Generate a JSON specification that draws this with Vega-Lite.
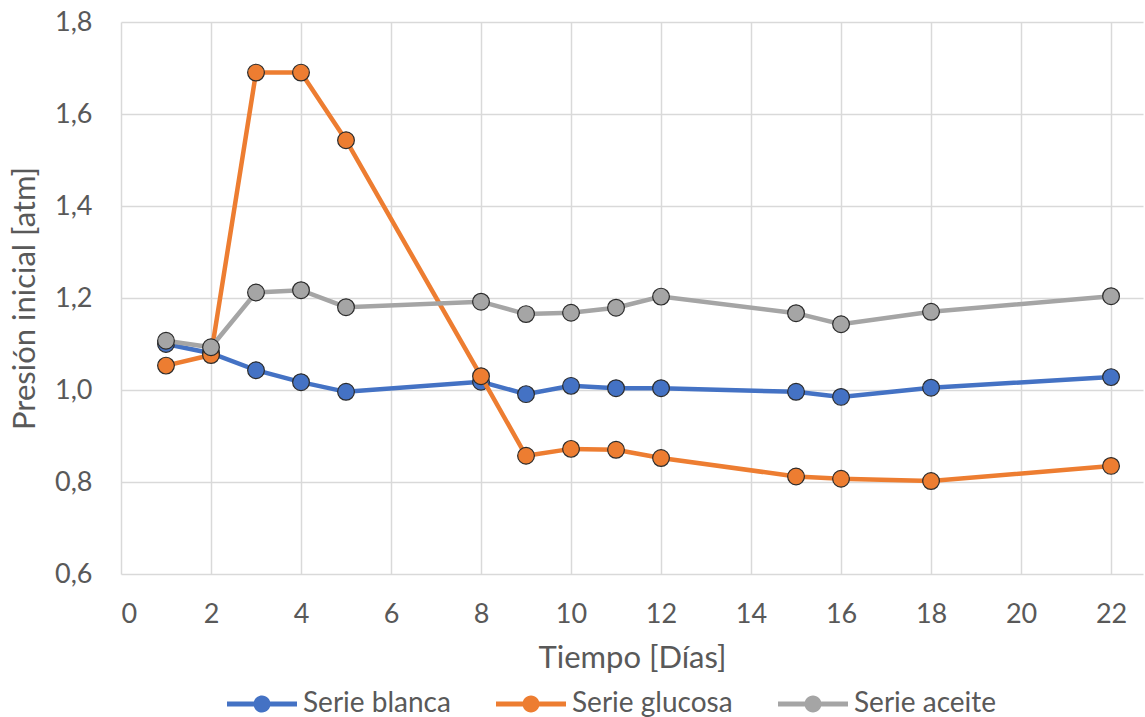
{
  "$schema": "https://vega.github.io/schema/vega-lite/v6.json",
  "width": 1022,
  "height": 552,
  "autosize": "none",
  "padding": {"left": 121, "top": 22, "right": 2, "bottom": 143},
  "background": "white",
  "config": {
    "font": "Lato",
    "view": {"stroke": null},
    "axis": {
      "labelColor": "#595959",
      "titleColor": "#595959",
      "labelFontSize": 27,
      "titleFontSize": 31,
      "titleFontWeight": "normal",
      "gridColor": "#d9d9d9",
      "gridWidth": 1.5,
      "ticks": false,
      "domain": false
    }
  },
  "data": {
    "values": [
      {"dia": 1, "serie": "Serie blanca", "presion": 1.100},
      {"dia": 2, "serie": "Serie blanca", "presion": 1.080},
      {"dia": 3, "serie": "Serie blanca", "presion": 1.043},
      {"dia": 4, "serie": "Serie blanca", "presion": 1.017},
      {"dia": 5, "serie": "Serie blanca", "presion": 0.996},
      {"dia": 8, "serie": "Serie blanca", "presion": 1.018},
      {"dia": 9, "serie": "Serie blanca", "presion": 0.991},
      {"dia": 10, "serie": "Serie blanca", "presion": 1.009},
      {"dia": 11, "serie": "Serie blanca", "presion": 1.004},
      {"dia": 12, "serie": "Serie blanca", "presion": 1.004},
      {"dia": 15, "serie": "Serie blanca", "presion": 0.996},
      {"dia": 16, "serie": "Serie blanca", "presion": 0.985},
      {"dia": 18, "serie": "Serie blanca", "presion": 1.005},
      {"dia": 22, "serie": "Serie blanca", "presion": 1.028},
      {"dia": 1, "serie": "Serie glucosa", "presion": 1.053},
      {"dia": 2, "serie": "Serie glucosa", "presion": 1.076},
      {"dia": 3, "serie": "Serie glucosa", "presion": 1.690},
      {"dia": 4, "serie": "Serie glucosa", "presion": 1.690},
      {"dia": 5, "serie": "Serie glucosa", "presion": 1.543},
      {"dia": 8, "serie": "Serie glucosa", "presion": 1.030},
      {"dia": 9, "serie": "Serie glucosa", "presion": 0.857},
      {"dia": 10, "serie": "Serie glucosa", "presion": 0.872},
      {"dia": 11, "serie": "Serie glucosa", "presion": 0.870},
      {"dia": 12, "serie": "Serie glucosa", "presion": 0.852},
      {"dia": 15, "serie": "Serie glucosa", "presion": 0.812},
      {"dia": 16, "serie": "Serie glucosa", "presion": 0.807},
      {"dia": 18, "serie": "Serie glucosa", "presion": 0.802},
      {"dia": 22, "serie": "Serie glucosa", "presion": 0.835},
      {"dia": 1, "serie": "Serie aceite", "presion": 1.107},
      {"dia": 2, "serie": "Serie aceite", "presion": 1.093},
      {"dia": 3, "serie": "Serie aceite", "presion": 1.212},
      {"dia": 4, "serie": "Serie aceite", "presion": 1.217},
      {"dia": 5, "serie": "Serie aceite", "presion": 1.180},
      {"dia": 8, "serie": "Serie aceite", "presion": 1.192},
      {"dia": 9, "serie": "Serie aceite", "presion": 1.165},
      {"dia": 10, "serie": "Serie aceite", "presion": 1.168},
      {"dia": 11, "serie": "Serie aceite", "presion": 1.179},
      {"dia": 12, "serie": "Serie aceite", "presion": 1.203},
      {"dia": 15, "serie": "Serie aceite", "presion": 1.167},
      {"dia": 16, "serie": "Serie aceite", "presion": 1.143},
      {"dia": 18, "serie": "Serie aceite", "presion": 1.170},
      {"dia": 22, "serie": "Serie aceite", "presion": 1.204}
    ]
  },
  "encoding": {
    "x": {
      "field": "dia",
      "type": "quantitative",
      "scale": {"domain": [0, 22.71], "nice": false, "zero": false},
      "axis": {
        "values": [0, 2, 4, 6, 8, 10, 12, 14, 16, 18, 20, 22],
        "labelPadding": 27,
        "title": "Tiempo [Días]",
        "titlePadding": 16
      }
    },
    "y": {
      "field": "presion",
      "type": "quantitative",
      "scale": {"domain": [0.6, 1.8], "nice": false, "zero": false},
      "axis": {
        "values": [0.6, 0.8, 1.0, 1.2, 1.4, 1.6, 1.8],
        "labelExpr": "replace(format(datum.value, '.1f'), '.', ',')",
        "labelPadding": 29,
        "title": "Presión inicial [atm]",
        "titlePadding": 13
      }
    },
    "color": {
      "field": "serie",
      "type": "nominal",
      "scale": {
        "domain": ["Serie blanca", "Serie glucosa", "Serie aceite"],
        "range": ["#4472C4", "#ED7D31", "#A5A5A5"]
      },
      "legend": {
        "title": null,
        "orient": "none",
        "direction": "horizontal",
        "legendX": 106,
        "legendY": 647,
        "padding": 0,
        "symbolType": "M -1 -0.071 L 1 -0.071 L 1 0.071 L -1 0.071 Z M 0.243 0 A 0.243 0.243 0 1 1 -0.243 0 A 0.243 0.243 0 1 1 0.243 0 Z",
        "symbolSize": 4900,
        "symbolStrokeWidth": 0,
        "symbolOpacity": 1,
        "labelFontSize": 28,
        "labelLimit": 400,
        "labelColor": "#595959",
        "labelOffset": 6,
        "columnPadding": 45,
        "encode": {
          "symbols": {"update": {"fill": {"scale": "color", "field": "value"}, "stroke": {"value": "transparent"}}}
        }
      }
    }
  },
  "layer": [
    {
      "transform": [{"filter": "datum.serie === 'Serie blanca'"}],
      "mark": {"type": "line", "strokeWidth": 4.5, "point": {"filled": true, "size": 280, "stroke": "#2b2b2b", "strokeWidth": 1.2, "opacity": 1}}
    },
    {
      "transform": [{"filter": "datum.serie === 'Serie glucosa'"}],
      "mark": {"type": "line", "strokeWidth": 4.5, "point": {"filled": true, "size": 280, "stroke": "#2b2b2b", "strokeWidth": 1.2, "opacity": 1}}
    },
    {
      "transform": [{"filter": "datum.serie === 'Serie aceite'"}],
      "mark": {"type": "line", "strokeWidth": 4.5, "point": {"filled": true, "size": 280, "stroke": "#2b2b2b", "strokeWidth": 1.2, "opacity": 1}}
    }
  ]
}
